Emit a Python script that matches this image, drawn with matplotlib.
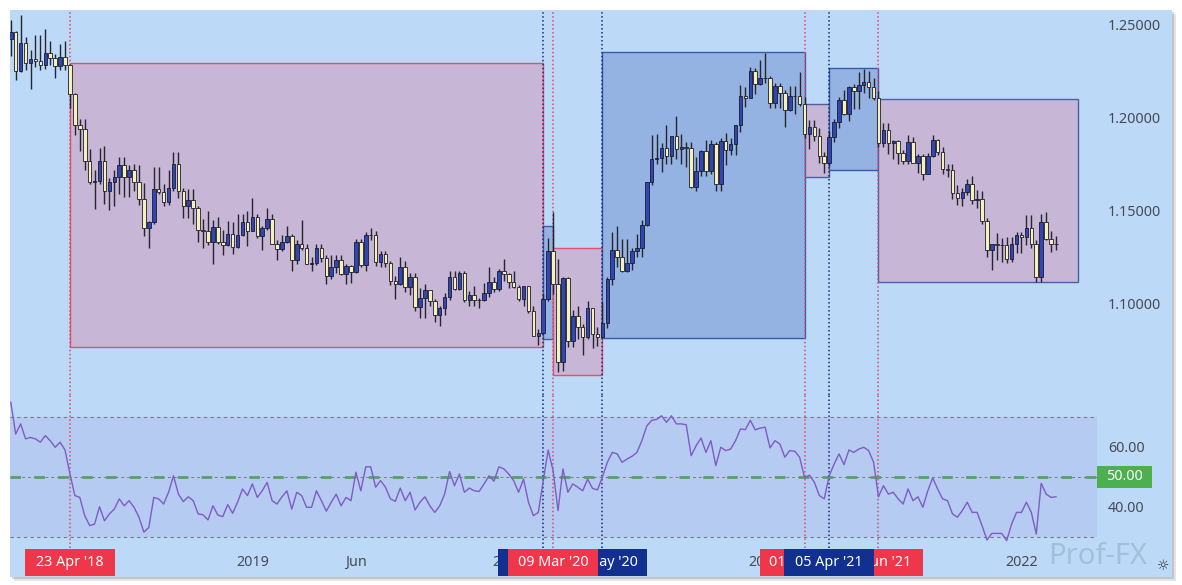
import numpy as np
import pandas as pd
import matplotlib
matplotlib.use("Agg")
import matplotlib.pyplot as plt
from matplotlib.patches import Rectangle

plt.rcParams["font.family"] = ["Noto Sans", "DejaVu Sans"]

# weekly EURUSD candles, first week 29 Jan 2018
dates = pd.date_range("2018-01-29", periods=213, freq="W-MON")

open_ = [
    1.2425, 1.2460, 1.2250, 1.2405, 1.2295, 1.2315, 1.2307, 1.2287, 1.2352, 1.2320, 1.2280, 1.2330,
    1.2287, 1.2130, 1.1960, 1.1940, 1.1770, 1.1655, 1.1660, 1.1770, 1.1610, 1.1655, 1.1685, 1.1745,
    1.1685, 1.1720, 1.1655, 1.1565, 1.1410, 1.1440, 1.1620, 1.1600, 1.1550, 1.1625, 1.1750, 1.1605,
    1.1525, 1.1560, 1.1515, 1.1400, 1.1390, 1.1335, 1.1415, 1.1335, 1.1315, 1.1375, 1.1305, 1.1370,
    1.1440, 1.1395, 1.1470, 1.1365, 1.1410, 1.1455, 1.1325, 1.1295, 1.1335, 1.1365, 1.1235, 1.1325,
    1.1300, 1.1215, 1.1220, 1.1300, 1.1245, 1.1150, 1.1200, 1.1235, 1.1160, 1.1205, 1.1170, 1.1335,
    1.1210, 1.1370, 1.1370, 1.1225, 1.1270, 1.1220, 1.1125, 1.1110, 1.1200, 1.1090, 1.1145, 1.0985,
    1.1030, 1.1075, 1.1015, 1.0940, 1.0980, 1.1040, 1.1145, 1.1080, 1.1165, 1.1020, 1.1050, 1.1020,
    1.1020, 1.1060, 1.1120, 1.1080, 1.1175, 1.1160, 1.1120, 1.1090, 1.1025, 1.1095, 1.0965, 1.0830,
    1.0845, 1.1025, 1.1285, 1.1105, 1.0690, 1.1140, 1.0800, 1.0935, 1.0875, 1.0820, 1.0980, 1.0840,
    1.0820, 1.0900, 1.1135, 1.1290, 1.1255, 1.1180, 1.1220, 1.1285, 1.1300, 1.1425, 1.1655, 1.1780,
    1.1785, 1.1840, 1.1795, 1.1905, 1.1835, 1.1845, 1.1840, 1.1630, 1.1715, 1.1825, 1.1715, 1.1860,
    1.1645, 1.1875, 1.1830, 1.1860, 1.1960, 1.2120, 1.2110, 1.2255, 1.2185, 1.2215, 1.2215, 1.2080,
    1.2170, 1.2135, 1.2045, 1.2120, 1.2120, 1.2075, 1.1915, 1.1950, 1.1905, 1.1795, 1.1760, 1.1900,
    1.1980, 1.2095, 1.2020, 1.2165, 1.2145, 1.2180, 1.2195, 1.2165, 1.2105, 1.1865, 1.1935, 1.1865,
    1.1875, 1.1810, 1.1770, 1.1870, 1.1760, 1.1795, 1.1700, 1.1795, 1.1880, 1.1815, 1.1725, 1.1720,
    1.1595, 1.1570, 1.1600, 1.1645, 1.1560, 1.1565, 1.1445, 1.1290, 1.1320, 1.1315, 1.1315, 1.1240,
    1.1325, 1.1370, 1.1360, 1.1410, 1.1325, 1.1145, 1.1440, 1.1350, 1.1320,
]
high = [
    1.2525, 1.2470, 1.2555, 1.2435, 1.2365, 1.2446, 1.2446, 1.2476, 1.2415, 1.2345, 1.2396, 1.2414,
    1.2290, 1.2135, 1.1995, 1.1996, 1.1835, 1.1720, 1.1840, 1.1852, 1.1675, 1.1720, 1.1790, 1.1790,
    1.1745, 1.1750, 1.1745, 1.1650, 1.1445, 1.1735, 1.1735, 1.1645, 1.1720, 1.1815, 1.1815, 1.1625,
    1.1620, 1.1620, 1.1525, 1.1455, 1.1500, 1.1450, 1.1470, 1.1400, 1.1445, 1.1440, 1.1485, 1.1485,
    1.1500, 1.1570, 1.1485, 1.1420, 1.1515, 1.1485, 1.1345, 1.1370, 1.1420, 1.1375, 1.1345, 1.1450,
    1.1325, 1.1255, 1.1325, 1.1325, 1.1265, 1.1265, 1.1265, 1.1265, 1.1215, 1.1210, 1.1350, 1.1350,
    1.1385, 1.1410, 1.1395, 1.1285, 1.1285, 1.1230, 1.1150, 1.1250, 1.1230, 1.1165, 1.1165, 1.1085,
    1.1110, 1.1075, 1.1025, 1.0990, 1.1060, 1.1180, 1.1180, 1.1175, 1.1180, 1.1070, 1.1095, 1.1030,
    1.1115, 1.1200, 1.1145, 1.1190, 1.1240, 1.1165, 1.1175, 1.1100, 1.1095, 1.1095, 1.0990, 1.0865,
    1.1055, 1.1355, 1.1495, 1.1240, 1.1145, 1.1145, 1.0970, 1.0990, 1.0890, 1.1015, 1.0980, 1.0875,
    1.1010, 1.1145, 1.1385, 1.1420, 1.1350, 1.1350, 1.1300, 1.1375, 1.1450, 1.1655, 1.1910, 1.1915,
    1.1865, 1.1965, 1.1900, 1.2010, 1.1915, 1.1870, 1.1870, 1.1790, 1.1830, 1.1880, 1.1880, 1.1870,
    1.1890, 1.1920, 1.1890, 1.1965, 1.2175, 1.2165, 1.2275, 1.2270, 1.2310, 1.2350, 1.2225, 1.2190,
    1.2190, 1.2150, 1.2170, 1.2170, 1.2245, 1.2115, 1.1990, 1.1990, 1.1945, 1.1815, 1.1930, 1.1995,
    1.2115, 1.2150, 1.2170, 1.2185, 1.2245, 1.2265, 1.2255, 1.2215, 1.2145, 1.1975, 1.1975, 1.1880,
    1.1880, 1.1830, 1.1910, 1.1900, 1.1805, 1.1805, 1.1810, 1.1910, 1.1885, 1.1845, 1.1750, 1.1755,
    1.1640, 1.1625, 1.1670, 1.1690, 1.1615, 1.1610, 1.1465, 1.1320, 1.1380, 1.1355, 1.1360, 1.1360,
    1.1385, 1.1385, 1.1480, 1.1480, 1.1345, 1.1485, 1.1495, 1.1395, 1.1365,
]
low = [
    1.2335, 1.2206, 1.2245, 1.2260, 1.2155, 1.2273, 1.2260, 1.2262, 1.2285, 1.2215, 1.2260, 1.2260,
    1.2055, 1.1910, 1.1823, 1.1718, 1.1645, 1.1510, 1.1645, 1.1540, 1.1508, 1.1525, 1.1590, 1.1575,
    1.1575, 1.1610, 1.1530, 1.1365, 1.1300, 1.1430, 1.1590, 1.1525, 1.1530, 1.1610, 1.1570, 1.1460,
    1.1465, 1.1430, 1.1335, 1.1300, 1.1315, 1.1215, 1.1325, 1.1265, 1.1310, 1.1270, 1.1300, 1.1365,
    1.1310, 1.1390, 1.1355, 1.1290, 1.1400, 1.1325, 1.1235, 1.1285, 1.1330, 1.1175, 1.1215, 1.1290,
    1.1215, 1.1180, 1.1210, 1.1225, 1.1110, 1.1135, 1.1165, 1.1155, 1.1105, 1.1115, 1.1165, 1.1200,
    1.1180, 1.1345, 1.1205, 1.1200, 1.1200, 1.1100, 1.1025, 1.1100, 1.1065, 1.1050, 1.0965, 1.0925,
    1.0925, 1.0990, 1.0905, 1.0880, 1.0940, 1.1020, 1.1075, 1.1075, 1.1010, 1.0990, 1.0990, 1.0980,
    1.1015, 1.1040, 1.1065, 1.1070, 1.1125, 1.1085, 1.1085, 1.1015, 1.0990, 1.0950, 1.0830, 1.0780,
    1.0840, 1.1015, 1.1055, 1.0635, 1.0640, 1.0770, 1.0770, 1.0810, 1.0725, 1.0810, 1.0765, 1.0775,
    1.0815, 1.0870, 1.1100, 1.1200, 1.1170, 1.1170, 1.1185, 1.1250, 1.1255, 1.1420, 1.1640, 1.1755,
    1.1710, 1.1755, 1.1755, 1.1780, 1.1755, 1.1735, 1.1625, 1.1610, 1.1690, 1.1690, 1.1700, 1.1610,
    1.1605, 1.1745, 1.1800, 1.1800, 1.1925, 1.2060, 1.2105, 1.2130, 1.2180, 1.2190, 1.2055, 1.2055,
    1.2055, 1.1950, 1.2040, 1.2020, 1.2065, 1.1895, 1.1835, 1.1875, 1.1760, 1.1705, 1.1740, 1.1870,
    1.1945, 1.2015, 1.1985, 1.2050, 1.2050, 1.2135, 1.2105, 1.2095, 1.1845, 1.1845, 1.1805, 1.1780,
    1.1750, 1.1750, 1.1755, 1.1760, 1.1705, 1.1665, 1.1700, 1.1790, 1.1800, 1.1700, 1.1685, 1.1565,
    1.1530, 1.1525, 1.1585, 1.1535, 1.1515, 1.1430, 1.1250, 1.1185, 1.1235, 1.1225, 1.1220, 1.1225,
    1.1275, 1.1275, 1.1315, 1.1300, 1.1120, 1.1120, 1.1345, 1.1280, 1.1290,
]
close = [
    1.2460, 1.2250, 1.2405, 1.2295, 1.2315, 1.2307, 1.2287, 1.2352, 1.2320, 1.2280, 1.2330, 1.2287,
    1.2130, 1.1960, 1.1940, 1.1770, 1.1655, 1.1660, 1.1770, 1.1610, 1.1655, 1.1685, 1.1745, 1.1685,
    1.1720, 1.1655, 1.1565, 1.1410, 1.1440, 1.1620, 1.1600, 1.1550, 1.1625, 1.1750, 1.1605, 1.1525,
    1.1560, 1.1515, 1.1400, 1.1390, 1.1335, 1.1415, 1.1335, 1.1315, 1.1375, 1.1305, 1.1370, 1.1440,
    1.1395, 1.1470, 1.1365, 1.1410, 1.1455, 1.1325, 1.1295, 1.1335, 1.1365, 1.1235, 1.1325, 1.1300,
    1.1215, 1.1220, 1.1300, 1.1245, 1.1150, 1.1200, 1.1235, 1.1160, 1.1205, 1.1170, 1.1335, 1.1210,
    1.1370, 1.1370, 1.1225, 1.1270, 1.1220, 1.1125, 1.1110, 1.1200, 1.1090, 1.1145, 1.0985, 1.1030,
    1.1075, 1.1015, 1.0940, 1.0980, 1.1040, 1.1145, 1.1080, 1.1165, 1.1020, 1.1050, 1.1020, 1.1020,
    1.1060, 1.1120, 1.1080, 1.1175, 1.1160, 1.1120, 1.1090, 1.1025, 1.1095, 1.0965, 1.0830, 1.0845,
    1.1025, 1.1285, 1.1105, 1.0690, 1.1140, 1.0800, 1.0935, 1.0875, 1.0820, 1.0980, 1.0840, 1.0820,
    1.0900, 1.1135, 1.1290, 1.1255, 1.1180, 1.1220, 1.1285, 1.1300, 1.1425, 1.1655, 1.1780, 1.1785,
    1.1840, 1.1795, 1.1905, 1.1835, 1.1845, 1.1840, 1.1630, 1.1715, 1.1825, 1.1715, 1.1860, 1.1645,
    1.1875, 1.1830, 1.1860, 1.1960, 1.2120, 1.2110, 1.2255, 1.2185, 1.2215, 1.2215, 1.2080, 1.2170,
    1.2135, 1.2045, 1.2120, 1.2120, 1.2075, 1.1915, 1.1950, 1.1905, 1.1795, 1.1760, 1.1900, 1.1980,
    1.2095, 1.2020, 1.2165, 1.2145, 1.2180, 1.2195, 1.2165, 1.2105, 1.1865, 1.1935, 1.1865, 1.1875,
    1.1810, 1.1770, 1.1870, 1.1760, 1.1795, 1.1700, 1.1795, 1.1880, 1.1815, 1.1725, 1.1720, 1.1595,
    1.1570, 1.1600, 1.1645, 1.1560, 1.1565, 1.1445, 1.1290, 1.1320, 1.1315, 1.1315, 1.1240, 1.1325,
    1.1370, 1.1360, 1.1410, 1.1325, 1.1145, 1.1440, 1.1350, 1.1320, 1.1320,
]
rsi = [
    74.9, 64.3, 67.7, 62.7, 63.2, 62.7, 61.6, 63.8, 62.1, 59.9, 61.6, 59.0,
    51.0, 43.8, 43.2, 37.1, 33.8, 34.3, 40.1, 35.4, 37.7, 39.3, 42.7, 40.4,
    42.1, 39.9, 36.6, 31.6, 33.2, 43.2, 42.7, 41.0, 44.9, 50.4, 44.3, 41.8,
    43.4, 42.1, 37.7, 37.4, 35.7, 40.4, 37.3, 36.8, 40.8, 37.9, 41.6, 46.0,
    43.8, 47.7, 43.2, 45.4, 48.2, 42.1, 41.0, 43.4, 45.4, 39.3, 44.9, 43.8,
    39.9, 39.9, 45.4, 42.1, 38.6, 41.6, 44.3, 40.4, 43.2, 42.1, 51.6, 45.4,
    53.4, 53.4, 46.6, 48.8, 46.6, 42.7, 41.9, 46.3, 42.1, 44.9, 39.0, 41.6,
    43.4, 40.4, 38.2, 40.4, 44.3, 51.8, 47.1, 51.0, 44.9, 46.3, 45.4, 45.2,
    47.7, 50.4, 48.6, 53.4, 52.7, 51.0, 48.8, 44.9, 49.3, 41.6, 37.1, 38.2,
    48.8, 59.0, 52.1, 38.8, 52.7, 44.9, 47.7, 46.6, 45.4, 49.3, 46.2, 45.7,
    50.0, 54.9, 58.2, 57.7, 54.9, 56.0, 56.9, 58.2, 62.1, 67.0, 68.9, 69.2,
    70.4, 68.2, 70.4, 67.7, 67.7, 67.4, 57.1, 60.4, 63.0, 58.2, 62.1, 53.8,
    59.9, 58.8, 59.3, 62.1, 66.0, 65.8, 68.9, 65.7, 66.3, 66.6, 59.7, 62.1,
    61.0, 56.6, 58.8, 58.6, 56.6, 49.8, 50.6, 48.2, 43.8, 42.7, 50.4, 54.3,
    57.7, 54.1, 59.0, 58.2, 59.3, 59.9, 58.8, 54.9, 43.4, 47.1, 44.3, 44.9,
    42.7, 41.0, 46.0, 42.1, 43.4, 39.9, 45.4, 49.7, 46.0, 42.7, 42.1, 37.7,
    36.6, 38.8, 41.6, 38.2, 38.2, 33.8, 29.0, 31.2, 31.2, 31.2, 28.8, 34.3,
    38.2, 38.2, 41.6, 38.2, 31.0, 47.9, 44.3, 43.2, 43.4,
]

# zones: start week, end week, top, bottom, kind
zone_start = [12, 108, 110, 120, 161, 166, 176]
zone_end = [108, 110, 120, 161, 166, 176, 216.5]
zone_top = [1.2296, 1.1419, 1.1301, 1.2355, 1.2075, 1.2269, 1.2102]
zone_bottom = [1.0769, 1.0812, 1.0618, 1.0817, 1.1683, 1.1720, 1.1118]
zone_kind = ["sell", "buy", "sell", "buy", "sell", "buy", "sell"]

# marked dates on the time axis
mark_idx = [12, 108, 120, 110, 161, 176, 166]
mark_text = ["23 Apr '18", "24 Feb '20", "18 May '20", "09 Mar '20",
             "01 Mar '21", "14 Jun '21", "05 Apr '21"]
mark_kind = ["sell", "buy", "buy", "sell", "sell", "sell", "buy"]
mark_z = [5, 5, 5, 7, 5, 5, 7]

tick_idx = [49, 70, 101, 153, 205]
tick_text = ["2019", "Jun", "2020", "2021", "2022"]

assert len(open_) == len(high) == len(low) == len(close) == len(rsi) == len(dates)

BG = "#bcd9f8"
RED = "#f0364a"
NAVY = "#11308f"
TXT = "#474a54"

W, H = 1182, 585
fig = plt.figure(figsize=(W / 100, H / 100), dpi=100)
fig.patch.set_facecolor("white")


def frect(x0, y0, x1, y1):
    # pixel box (top-left origin) -> figure fraction rect
    return [x0 / W, 1 - y1 / H, (x1 - x0) / W, (y1 - y0) / H]


for off, a in [(4, 0.18), (2, 0.25)]:
    r = frect(10 + off, 10 + off, 1172 + off, 577 + off)
    fig.add_artist(Rectangle((r[0], r[1]), r[2], r[3], transform=fig.transFigure,
                             facecolor="#6b6b6b", alpha=a, edgecolor="none", zorder=-3))
r = frect(10, 10, 1172, 577)
fig.add_artist(Rectangle((r[0], r[1]), r[2], r[3], transform=fig.transFigure,
                         facecolor=BG, edgecolor="none", zorder=-2))

ax = fig.add_axes(frect(10, 10, 1097, 395))
ax_rsi = fig.add_axes(frect(10, 395, 1097, 548), sharex=ax)
ax_t = fig.add_axes(frect(10, 548, 1097, 577), sharex=ax)
for a in (ax, ax_rsi, ax_t):
    a.set_facecolor("none")
    for s in a.spines.values():
        s.set_visible(False)
    a.tick_params(length=0)

x = np.arange(len(dates))
o = np.array(open_)
h = np.array(high)
l = np.array(low)
c = np.array(close)

ax.set_xlim(-0.16, 220.32)
ax.set_ylim(1.05107, 1.25806)

# zones
for s, e, t, b, k in zip(zone_start, zone_end, zone_top, zone_bottom, zone_kind):
    fc = "#c7b6d6" if k == "sell" else "#95b3e2"
    ec = "#e2506c" if k == "sell" else "#3b5aa6"
    if s >= 161 and k == "sell":
        ec = "#4a5fa8"
    ax.add_patch(Rectangle((s, b), e - s, t - b, facecolor=fc, edgecolor=ec, lw=1.0, zorder=1))

# candles
up = c >= o
body_col = np.where(up, "#2e46b6", "#f6f0bd")
ax.vlines(x, l, h, color="#26262f", lw=1.0, zorder=3)
ax.bar(x, np.abs(c - o), bottom=np.minimum(o, c), width=0.72, color=body_col,
       edgecolor="#1c1c28", linewidth=0.6, zorder=4)

ax.yaxis.tick_right()
ax.set_yticks([1.10, 1.15, 1.20, 1.25])
ax.set_yticklabels([f"{v:.5f}" for v in [1.10, 1.15, 1.20, 1.25]])
ax.tick_params(axis="y", colors=TXT, labelsize=10.3, pad=8)
ax.tick_params(axis="x", labelbottom=False)

# RSI pane
ax_rsi.set_ylim(26.33, 77.33)
ax_rsi.axhspan(30, 70, color="#7e57c2", alpha=0.1, lw=0, zorder=1)
ax_rsi.axhline(70, color="#787b86", lw=0.8, ls=(0, (3, 3)), zorder=2)
ax_rsi.axhline(30, color="#787b86", lw=0.8, ls=(0, (3, 3)), zorder=2)
ax_rsi.axhline(50, color="#787b86", lw=0.7, ls=(0, (3, 3)), zorder=2)
ax_rsi.axhline(50, color="#5a9e68", lw=2.0, ls=(0, (3.8, 4.8)), zorder=2.2)
ax_rsi.plot(x, rsi, color="#7e5cc4", lw=1.0, zorder=4)
ax_rsi.yaxis.tick_right()
ax_rsi.set_yticks([40, 60])
ax_rsi.set_yticklabels(["40.00", "60.00"])
ax_rsi.tick_params(axis="y", colors=TXT, labelsize=10.3, pad=8)
ax_rsi.tick_params(axis="x", labelbottom=False)

r = frect(1097, 466, 1152, 488)
fig.add_artist(Rectangle((r[0], r[1]), r[2], r[3], transform=fig.transFigure,
                         facecolor="#4caf50", edgecolor="none", zorder=3))
fig.text(1124.5 / W, 1 - 477 / H, "50.00", color="white", fontsize=10.3,
         ha="center", va="center", zorder=4)

# dotted date lines
for i, k in zip(mark_idx, mark_kind):
    col = "#e0486e" if k == "sell" else "#1a2a78"
    for a in (ax, ax_rsi):
        a.axvline(i, color=col, lw=1.1, ls=(0, (1, 1.6)), zorder=2.5)

# time axis
ax_t.set_ylim(0, 1)
ax_t.set_yticks([])
ax_t.tick_params(axis="x", labelbottom=False)
for i, t in zip(tick_idx, tick_text):
    ax_t.text(i, 0.5, t, color=TXT, fontsize=10.3, ha="center", va="center", zorder=2)
half = 45 / 4.93
for i, t, k, z in zip(mark_idx, mark_text, mark_kind, mark_z):
    col = RED if k == "sell" else NAVY
    ax_t.add_patch(Rectangle((i - half, 0.05), 2 * half, 0.92, facecolor=col,
                             edgecolor="none", zorder=z, clip_on=False))
    ax_t.text(i, 0.5, t, color="white", fontsize=10.3, ha="center", va="center",
              zorder=z + 0.1)

# watermark and settings icon
fig.text(1098 / W, 1 - 556 / H, "Prof-FX", color="#8fa6bf", alpha=0.5, fontsize=21,
         fontweight="bold", ha="center", va="center", zorder=6)
fig.text(1163 / W, 1 - 566 / H, "\u263c", color="#333333", fontsize=10,
         ha="center", va="center", family=["DejaVu Sans"], zorder=7)

fig.savefig("out.png", dpi=100, facecolor="white")
